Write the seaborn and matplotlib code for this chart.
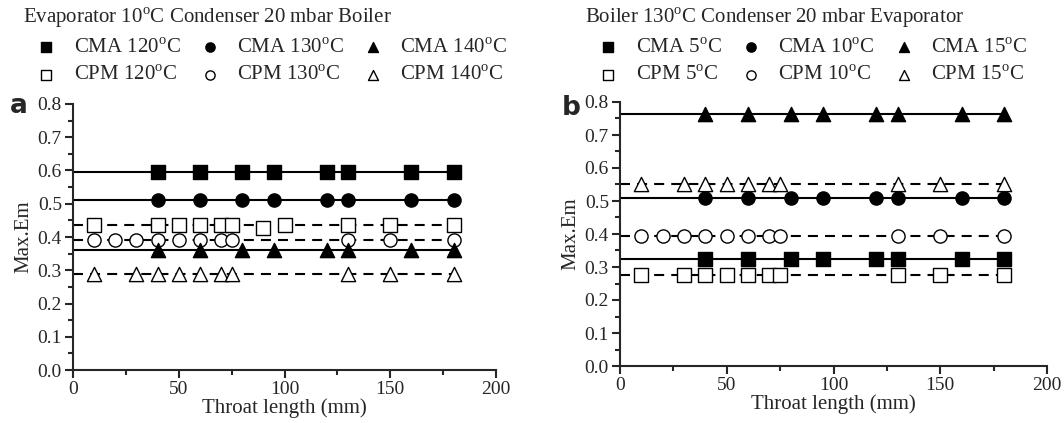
import matplotlib
matplotlib.use("Agg")
import matplotlib.pyplot as plt
import pandas as pd
import seaborn as sns
from matplotlib.ticker import MultipleLocator

# ---- data ----
X_CMA = [40, 60, 80, 95, 120, 130, 160, 180]
X_CPM_SQ_A = [10, 40, 50, 60, 70, 75, 90, 100, 130, 150, 180]
X_CPM_CIRC = [10, 20, 30, 40, 50, 60, 70, 75, 130, 150, 180]
X_CPM_TRI = [10, 30, 40, 50, 60, 70, 75, 130, 150, 180]
X_CPM_SQ_B = [10, 30, 40, 50, 60, 70, 75, 130, 150, 180]

# panel a: boiler temperature
A_CMA_120 = [0.595, 0.595, 0.595, 0.595, 0.595, 0.595, 0.595, 0.595]
A_CMA_130 = [0.51, 0.51, 0.51, 0.51, 0.51, 0.51, 0.51, 0.51]
A_CMA_140 = [0.36, 0.36, 0.36, 0.36, 0.36, 0.36, 0.36, 0.36]
A_CPM_120 = [0.435, 0.435, 0.435, 0.435, 0.435, 0.435, 0.428, 0.435, 0.435, 0.435, 0.435]
A_CPM_130 = [0.39, 0.39, 0.39, 0.39, 0.39, 0.39, 0.39, 0.39, 0.39, 0.39, 0.39]
A_CPM_140 = [0.29, 0.29, 0.29, 0.29, 0.29, 0.29, 0.29, 0.29, 0.29, 0.29]

# panel b: evaporator temperature
B_CMA_5 = [0.325, 0.325, 0.325, 0.325, 0.325, 0.325, 0.325, 0.325]
B_CMA_10 = [0.51, 0.51, 0.51, 0.51, 0.51, 0.51, 0.51, 0.51]
B_CMA_15 = [0.765, 0.765, 0.765, 0.765, 0.765, 0.765, 0.765, 0.765]
B_CPM_5 = [0.275, 0.275, 0.275, 0.275, 0.275, 0.275, 0.275, 0.275, 0.275, 0.275]
B_CPM_10 = [0.395, 0.395, 0.395, 0.395, 0.395, 0.395, 0.395, 0.395, 0.395, 0.395, 0.395]
B_CPM_15 = [0.55, 0.55, 0.55, 0.55, 0.55, 0.55, 0.55, 0.55, 0.55, 0.55]

DEG = r"$^{\mathrm{o}}$C"

sns.set_style("ticks")
plt.rcParams["font.family"] = ["Liberation Serif", "DejaVu Serif"]
plt.rcParams["mathtext.fontset"] = "custom"
plt.rcParams["mathtext.rm"] = "Liberation Serif"


def series(label, x, y, marker, filled):
    return {"label": label, "df": pd.DataFrame({"x": x, "y": y}),
            "marker": marker, "filled": filled}


def draw_panel(ax, items):
    for it in items:
        df = it["df"]
        level = df["y"].median()
        ls = "-" if it["filled"] else (0, (4.8, 3.4))
        ax.plot([0, df["x"].max()], [level, level], color="black", lw=1.5,
                ls=ls, zorder=2)
        sns.scatterplot(data=df, x="x", y="y", ax=ax, marker=it["marker"],
                        s=90 if it["marker"] != "^" else 105,
                        facecolor="black" if it["filled"] else "white",
                        edgecolor="black", linewidth=1.0, zorder=3,
                        label=it["label"])
    ax.set_xlim(0, 200)
    ax.set_ylim(0, 0.8)
    ax.xaxis.set_major_locator(MultipleLocator(50))
    ax.xaxis.set_minor_locator(MultipleLocator(25))
    ax.yaxis.set_major_locator(MultipleLocator(0.1))
    ax.yaxis.set_minor_locator(MultipleLocator(0.05))
    ax.yaxis.set_major_formatter(plt.FormatStrFormatter("%.1f"))
    ax.tick_params(which="major", length=6, width=1.5, labelsize=14, pad=2)
    ax.tick_params(which="minor", length=3.5, width=1.5)
    for s in ("left", "bottom"):
        ax.spines[s].set_linewidth(1.5)
    sns.despine(ax=ax)
    ax.set_xlabel("Throat length (mm)", fontsize=15, labelpad=0)
    ax.set_ylabel("Max.Em", fontsize=15, labelpad=3)


fig = plt.figure(figsize=(10.64, 4.23), dpi=100)
ax_a = fig.add_axes([73 / 1064, 1 - 370 / 423, 423 / 1064, 266 / 423])
ax_b = fig.add_axes([620 / 1064, 1 - 366 / 423, 427 / 1064, 264 / 423])

items_a = [
    series("CMA 120" + DEG, X_CMA, A_CMA_120, "s", True),
    series("CPM 120" + DEG, X_CPM_SQ_A, A_CPM_120, "s", False),
    series("CMA 130" + DEG, X_CMA, A_CMA_130, "o", True),
    series("CPM 130" + DEG, X_CPM_CIRC, A_CPM_130, "o", False),
    series("CMA 140" + DEG, X_CMA, A_CMA_140, "^", True),
    series("CPM 140" + DEG, X_CPM_TRI, A_CPM_140, "^", False),
]
items_b = [
    series("CMA 5" + DEG, X_CMA, B_CMA_5, "s", True),
    series("CPM 5" + DEG, X_CPM_SQ_B, B_CPM_5, "s", False),
    series("CMA 10" + DEG, X_CMA, B_CMA_10, "o", True),
    series("CPM 10" + DEG, X_CPM_CIRC, B_CPM_10, "o", False),
    series("CMA 15" + DEG, X_CMA, B_CMA_15, "^", True),
    series("CPM 15" + DEG, X_CPM_TRI, B_CPM_15, "^", False),
]

draw_panel(ax_a, items_a)
draw_panel(ax_b, items_b)

for ax, x0 in ((ax_a, 36), (ax_b, 598)):
    ax.legend(loc="upper left", bbox_to_anchor=(x0 / 1064, 1 - 38 / 423),
              bbox_transform=fig.transFigure, ncol=3, frameon=False,
              fontsize=15, markerscale=0.7, handlelength=1.0,
              handletextpad=0.8, columnspacing=0.9, labelspacing=0.38,
              borderpad=0.0, borderaxespad=0.0)

fig.text(23 / 1064, 1 - 18 / 423, "Evaporator 10" + DEG + " Condenser 20 mbar Boiler",
         fontsize=15, va="center", ha="left")
fig.text(585 / 1064, 1 - 18 / 423, "Boiler 130" + DEG + " Condenser 20 mbar Evaporator",
         fontsize=15, va="center", ha="left")
fig.text(10 / 1064, 1 - 106 / 423, "a", fontsize=19, fontweight="bold",
         family="DejaVu Sans", va="center")
fig.text(562 / 1064, 1 - 108 / 423, "b", fontsize=19, fontweight="bold",
         family="DejaVu Sans", va="center")

fig.savefig("out.png", dpi=100, facecolor="white")
